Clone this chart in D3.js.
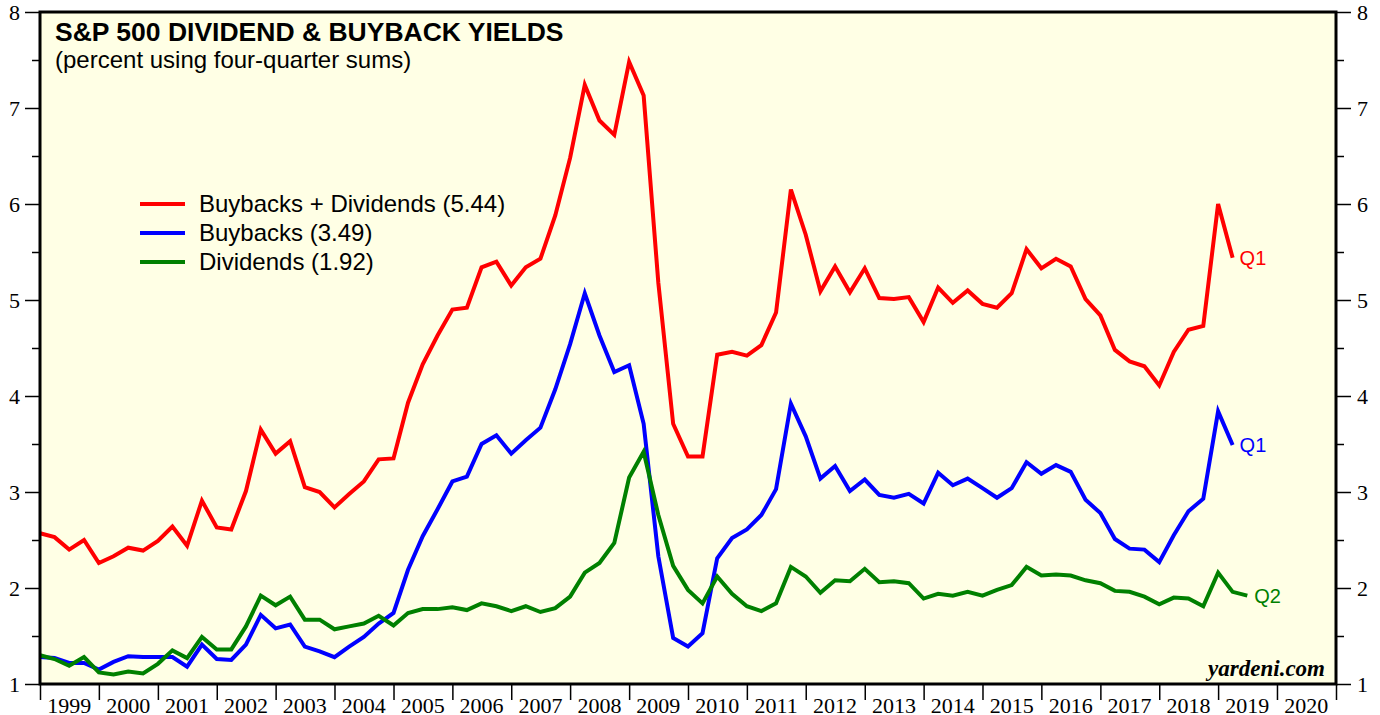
<!DOCTYPE html>
<meta charset="utf-8">
<title>S&P 500 Dividend & Buyback Yields</title>
<style>
body {
  margin: 0;
  background-color: white;
}
.title {
  font: bold 26.5px "Liberation Sans", Arial, sans-serif;
}
.subtitle {
  font: 24px "Liberation Sans", Arial, sans-serif;
}
.axis text {
  font: 22px "Liberation Serif", "Times New Roman", serif;
  fill: #000;
}
.axis line, .axis path {
  stroke: #000;
  stroke-width: 1.5px;
}
.legend text {
  font: 24px "Liberation Sans", Arial, sans-serif;
}
.endlabel {
  font: 20px "Liberation Sans", Arial, sans-serif;
}
.source {
  font: italic bold 23px "Liberation Serif", "Times New Roman", serif;
}
</style>
<svg width="1380" height="715"></svg>
<script src="https://d3js.org/d3.v7.min.js"></script>
<script>

// quarterly, four-quarter sums, first point = 1998 Q4
var startYear = 1999;
var years = [1999, 2000, 2001, 2002, 2003, 2004, 2005, 2006, 2007, 2008, 2009,
             2010, 2011, 2012, 2013, 2014, 2015, 2016, 2017, 2018, 2019, 2020];
var yTicks = [1, 2, 3, 4, 5, 6, 7, 8];

var buybacksDividends = [2.57, 2.53, 2.40, 2.50, 2.26, 2.33, 2.42, 2.39, 2.49, 2.64,
  2.44, 2.91, 2.63, 2.61, 3.01, 3.65, 3.40, 3.53, 3.05, 3.00,
  2.84, 2.98, 3.11, 3.34, 3.35, 3.93, 4.33, 4.63, 4.90, 4.92,
  5.34, 5.40, 5.15, 5.34, 5.43, 5.88, 6.48, 7.24, 6.87, 6.72,
  7.48, 7.13, 5.18, 3.71, 3.37, 3.37, 4.43, 4.46, 4.42, 4.53,
  4.87, 6.15, 5.68, 5.09, 5.35, 5.08, 5.33, 5.02, 5.01, 5.03,
  4.77, 5.13, 4.97, 5.10, 4.96, 4.92, 5.07, 5.53, 5.33, 5.43,
  5.35, 5.01, 4.84, 4.48, 4.36, 4.31, 4.11, 4.46, 4.69, 4.73,
  6.00, 5.44];

var buybacks = [1.28, 1.27, 1.22, 1.22, 1.15, 1.23, 1.29, 1.28, 1.28, 1.28,
  1.18, 1.41, 1.26, 1.25, 1.41, 1.72, 1.58, 1.62, 1.39, 1.34,
  1.28, 1.39, 1.49, 1.63, 1.74, 2.19, 2.54, 2.82, 3.11, 3.16,
  3.50, 3.59, 3.40, 3.54, 3.67, 4.07, 4.54, 5.07, 4.63, 4.25,
  4.32, 3.71, 2.33, 1.48, 1.39, 1.53, 2.31, 2.52, 2.61, 2.76,
  3.03, 3.92, 3.58, 3.14, 3.27, 3.01, 3.13, 2.97, 2.94, 2.98,
  2.88, 3.20, 3.07, 3.14, 3.04, 2.94, 3.04, 3.31, 3.19, 3.28,
  3.21, 2.92, 2.78, 2.51, 2.41, 2.40, 2.27, 2.55, 2.80, 2.93,
  3.84, 3.49];

var dividends = [1.30, 1.26, 1.19, 1.28, 1.12, 1.10, 1.13, 1.11, 1.21, 1.35,
  1.27, 1.49, 1.36, 1.36, 1.60, 1.92, 1.82, 1.91, 1.67, 1.67,
  1.57, 1.60, 1.63, 1.71, 1.61, 1.74, 1.78, 1.78, 1.80, 1.77,
  1.84, 1.81, 1.76, 1.81, 1.75, 1.79, 1.91, 2.16, 2.26, 2.47,
  3.15, 3.42, 2.76, 2.23, 1.98, 1.84, 2.12, 1.94, 1.81, 1.76,
  1.84, 2.22, 2.12, 1.95, 2.08, 2.07, 2.20, 2.06, 2.07, 2.05,
  1.89, 1.94, 1.92, 1.96, 1.92, 1.98, 2.03, 2.22, 2.13, 2.14,
  2.13, 2.08, 2.05, 1.97, 1.96, 1.91, 1.83, 1.90, 1.89, 1.81,
  2.16, 1.96, 1.92];

var series = [
  {name: "Buybacks + Dividends", values: buybacksDividends, color: "#ff0000", last: "Q1"},
  {name: "Buybacks", values: buybacks, color: "#0000ff", last: "Q1"},
  {name: "Dividends", values: dividends, color: "#008000", last: "Q2"}
];

// point i sits at the end of its quarter
function qDate(i) { return new Date(startYear, 3 * i, 1); }

var svg = d3.select("svg"),
    plot = {left: 40, right: 1336, top: 12, bottom: 684};

var x = d3.scaleTime()
    .domain([new Date(years[0], 0, 1), new Date(years[years.length - 1] + 1, 0, 1)])
    .range([plot.left, plot.right]);

var y = d3.scaleLinear()
    .domain([1, 8])
    .range([plot.bottom, plot.top]);

svg.append("rect")
    .attr("x", plot.left)
    .attr("y", plot.top)
    .attr("width", plot.right - plot.left)
    .attr("height", plot.bottom - plot.top)
    .style("fill", "#ffffe5");

/* y axes, with half-unit minor ticks */
var minor = d3.range(1.5, 8, 1);

function noDomain(g) { g.select(".domain").remove(); }

svg.append("g")
    .attr("class", "axis")
    .attr("transform", "translate(" + plot.left + ",0)")
    .call(d3.axisLeft(y).tickValues(yTicks).tickSize(15).tickPadding(5).tickFormat(d3.format("d")))
    .call(noDomain);
svg.append("g")
    .attr("class", "axis")
    .attr("transform", "translate(" + plot.left + ",0)")
    .call(d3.axisLeft(y).tickValues(minor).tickSize(8).tickFormat(""))
    .call(noDomain);

svg.append("g")
    .attr("class", "axis")
    .attr("transform", "translate(" + plot.right + ",0)")
    .call(d3.axisRight(y).tickValues(yTicks).tickSize(15).tickPadding(6).tickFormat(d3.format("d")))
    .call(noDomain);
svg.append("g")
    .attr("class", "axis")
    .attr("transform", "translate(" + plot.right + ",0)")
    .call(d3.axisRight(y).tickValues(minor).tickSize(8).tickFormat(""))
    .call(noDomain);

/* x axis: year boundaries as ticks, year labels centred in between */
var yearStarts = years.map(function(d) { return new Date(d, 0, 1); });
yearStarts.push(new Date(years[years.length - 1] + 1, 0, 1));

svg.append("g")
    .attr("class", "axis")
    .attr("transform", "translate(0," + plot.bottom + ")")
    .call(d3.axisBottom(x).tickValues(yearStarts).tickSize(16).tickFormat(""))
    .call(noDomain);

svg.append("g")
    .attr("class", "axis")
    .selectAll("text")
    .data(years)
    .enter().append("text")
      .attr("x", function(d) { return x(new Date(d, 6, 1)); })
      .attr("y", 713)
      .style("text-anchor", "middle")
      .text(function(d) { return d; });

/* lines */
var line = d3.line()
    .x(function(d, i) { return x(qDate(i)); })
    .y(function(d) { return y(d); });

svg.selectAll(".series")
  .data(series)
  .enter().append("path")
    .attr("class", "series")
    .attr("d", function(d) { return line(d.values); })
    .style("fill", "none")
    .style("stroke", function(d) { return d.color; })
    .style("stroke-width", 4);

svg.selectAll(".endlabel")
  .data(series)
  .enter().append("text")
    .attr("class", "endlabel")
    .attr("x", function(d) { return x(qDate(d.values.length - 1)) + 7; })
    .attr("y", function(d) { return y(d.values[d.values.length - 1]) + 7; })
    .style("fill", function(d) { return d.color; })
    .text(function(d) { return d.last; });

/* frame */
svg.append("rect")
    .attr("x", plot.left)
    .attr("y", plot.top)
    .attr("width", plot.right - plot.left)
    .attr("height", plot.bottom - plot.top)
    .style("fill", "none")
    .style("stroke", "#000")
    .style("stroke-width", 3);

/* titles */
svg.append("text")
    .attr("class", "title")
    .attr("x", 55)
    .attr("y", 41)
    .text("S&P 500 DIVIDEND & BUYBACK YIELDS");
svg.append("text")
    .attr("class", "subtitle")
    .attr("x", 55)
    .attr("y", 68)
    .text("(percent using four-quarter sums)");

/* legend */
var legend = svg.append("g")
    .attr("class", "legend")
    .selectAll("g")
    .data(series)
    .enter().append("g")
      .attr("transform", function(d, i) { return "translate(140," + (204 + i * 29) + ")"; });
legend.append("line")
    .attr("x1", 0)
    .attr("x2", 45)
    .style("stroke", function(d) { return d.color; })
    .style("stroke-width", 4);
legend.append("text")
    .attr("x", 59)
    .attr("y", 8)
    .text(function(d) { return d.name + " (" + d.values[d.values.length - 1].toFixed(2) + ")"; });

svg.append("text")
    .attr("class", "source")
    .attr("x", 1325)
    .attr("y", 676)
    .style("text-anchor", "end")
    .text("yardeni.com");

</script>
